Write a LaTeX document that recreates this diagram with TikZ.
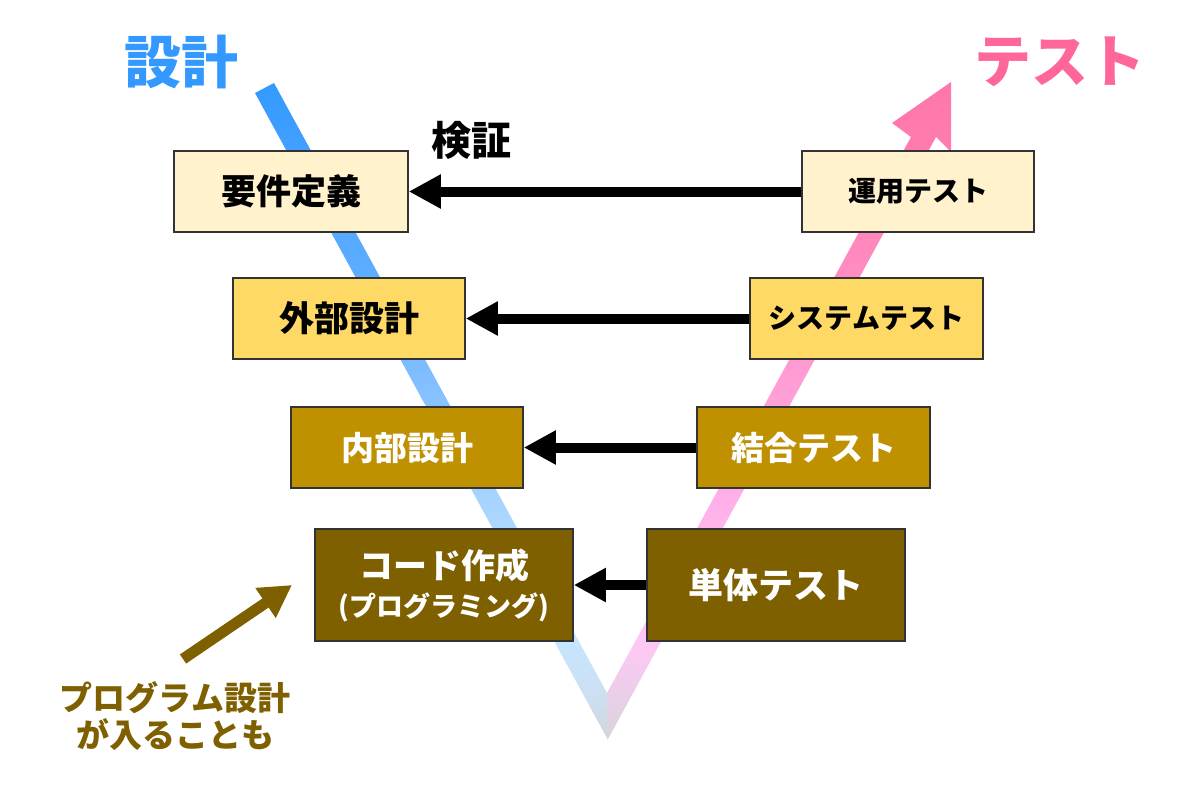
\documentclass[tikz,border=0pt]{standalone}
\usepackage{fontspec}
\setmainfont{Noto Sans CJK JP}
\usetikzlibrary{arrows.meta}
\definecolor{cA}{HTML}{FFF2CC}
\definecolor{cB}{HTML}{FFD966}
\definecolor{cC}{HTML}{BF9000}
\definecolor{cD}{HTML}{7F6000}
\definecolor{blueT}{HTML}{3399FF}
\definecolor{pinkT}{HTML}{FF6699}
\definecolor{lb1}{HTML}{3399FF}
\definecolor{lb2}{HTML}{5FAEFF}
\definecolor{lb3}{HTML}{A5D2FF}
\definecolor{lb4}{HTML}{C6E5FF}
\definecolor{lb5}{HTML}{CCDFF0}
\definecolor{lapex}{HTML}{D2D4DA}
\definecolor{rp1}{HTML}{FF77AA}
\definecolor{rp2}{HTML}{FF7BAE}
\definecolor{rp3}{HTML}{FF8DC3}
\definecolor{rp4}{HTML}{FFB0E8}
\definecolor{rp5}{HTML}{FFC8F4}
\definecolor{rp6}{HTML}{E8CFE8}
\definecolor{rapex}{HTML}{D8D4D8}
\pgfdeclareverticalshading{leftleg}{100bp}{color(0bp)=(lapex); color(25bp)=(lapex); color(28bp)=(lb5); color(32.5bp)=(lb4); color(44bp)=(lb3); color(60bp)=(lb2); color(75bp)=(lb1); color(100bp)=(lb1)}
\pgfdeclareverticalshading{rightleg}{100bp}{color(0bp)=(rapex); color(25bp)=(rapex); color(28bp)=(rp6); color(32.5bp)=(rp5); color(43.2bp)=(rp4); color(60.1bp)=(rp3); color(69.8bp)=(rp2); color(75bp)=(rp1); color(100bp)=(rp1)}
\newcommand\fsz[1]{\fontsize{#1}{#1}\selectfont\bfseries}
\tikzset{
  box/.style={draw=black!80, line width=1.5pt, minimum height=81pt, inner sep=0pt, align=center},
  harrow/.style={line width=10pt, -{Triangle[length=32pt,width=32pt]}},
  barrow/.style={draw=cD, line width=11pt, -{Triangle[length=32pt,width=34pt]}}
}
\begin{document}
\begin{tikzpicture}[x=1pt,y=-1pt]
\useasboundingbox (0,0) rectangle (1200,790);
% V shape
\shade[shading=leftleg] (255,93) -- (274,83) -- (607,693) -- (607.5,739) -- cycle;
\shade[shading=rightleg] (607,693) -- (911,137) -- (892,123) -- (951,82) -- (951,152) -- (936,137) -- (608,739) -- (607,739) -- cycle;
% titles
\node[font=\fsz{57}, text=blueT] (tD) at (181,62) {設計};
\node[font=\fsz{57}, text=pinkT] (tT) at (1060,62) {テスト};
\node[font=\fsz{40}] (kv) at (471,140) {検証};
% boxes
\node[box, fill=cA, minimum width=234pt, font=\fsz{35}] (yk) at (291,191.5) {要件定義};
\node[box, fill=cA, minimum width=232pt, font=\fsz{28}] (un) at (918,191.5) {運用テスト};
\node[box, fill=cB, minimum width=232pt, font=\fsz{35}] (gb) at (349,318.5) {外部設計};
\node[box, fill=cB, minimum width=233pt, font=\fsz{28}] (st) at (866.5,318.5) {システムテスト};
\node[box, fill=cC, text=white, minimum width=232pt, font=\fsz{33}] (nb) at (407,447.5) {内部設計};
\node[box, fill=cC, text=white, minimum width=233pt, font=\fsz{33}] (kg) at (813.5,447.5) {結合テスト};
\node[box, fill=cD, text=white, minimum width=258pt, minimum height=112pt, font=\fontsize{27}{38}\selectfont\bfseries] (cd) at (444,585) {{\fontsize{34}{38}\selectfont コード作成}\\(プログラミング)};
\node[box, fill=cD, text=white, minimum width=258pt, minimum height=112pt, font=\fsz{35}] (tt) at (776,585) {単体テスト};
% verification arrows
\draw[harrow] (un.west) -- (yk.east);
\draw[harrow] (st.west) -- (gb.east);
\draw[harrow] (kg.west) -- (nb.east);
\draw[harrow] (tt.west) -- (cd.east);
% note
\coordinate (btail) at (183,659);
\coordinate (bhead) at (292,585);
\draw[barrow] (btail) -- (bhead);
\node[font=\fontsize{33}{37}\selectfont\bfseries, text=cD, align=center] (note) at (175,716) {プログラム設計\\が入ることも};
\end{tikzpicture}
\end{document}
